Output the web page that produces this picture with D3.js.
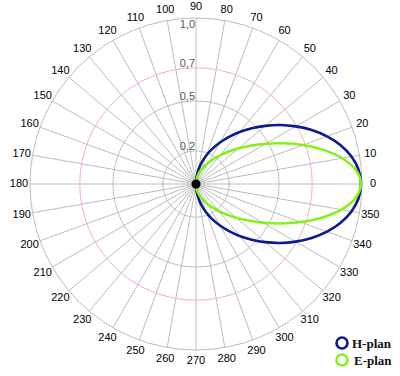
<!DOCTYPE html>
<html><head><meta charset="utf-8">
<script src="https://cdn.jsdelivr.net/npm/d3@7"></script>
<style>body{margin:0;background:#fff}svg{display:block}</style>
</head><body>
<svg id="c" width="400" height="376"></svg>
<script>
const angleTicks = [0,10,20,30,40,50,60,70,80,90,100,110,120,130,140,150,160,170,180,190,200,210,220,230,240,250,260,270,280,290,300,310,320,330,340,350];
const radialTicks = [0.2,0.5,0.7,1.0];
const radialLabels = ["0,2","0,5","0,7","1,0"];
const seriesNames = ["H-plan","E-plan"];
const seriesColors = ["#0b1a8c","#88f018"];
const angleDeg = [275,280,285,290,295,300,305,310,315,320,325,330,335,340,345,350,355,0,5,10,15,20,25,30,35,40,45,50,55,60,65,70,75,80,85,90];
const hplan = [0.044,0.089,0.136,0.184,0.235,0.289,0.347,0.409,0.475,0.545,0.619,0.694,0.769,0.840,0.902,0.951,0.983,0.994,0.983,0.951,0.902,0.840,0.769,0.694,0.619,0.545,0.475,0.409,0.347,0.289,0.235,0.184,0.136,0.089,0.044,0];
const eplan = [0.020,0.040,0.061,0.085,0.110,0.140,0.173,0.213,0.260,0.316,0.384,0.466,0.562,0.670,0.784,0.889,0.965,0.994,0.967,0.894,0.794,0.686,0.580,0.484,0.401,0.332,0.274,0.225,0.183,0.148,0.117,0.090,0.066,0.043,0.021,0];

const cx = 196, cy = 184, R = 166;
const svg = d3.select("#c");
const g = svg.append("g").attr("transform", `translate(${cx},${cy})`);
const r = d3.scaleLinear().domain([0,1]).range([0,R]);
const toRad = d => d * Math.PI / 180;

// spokes
g.selectAll("line.spoke").data(angleTicks).join("line")
  .attr("x1",0).attr("y1",0)
  .attr("x2",d=>r(1)*Math.cos(toRad(d)))
  .attr("y2",d=>-r(1)*Math.sin(toRad(d)))
  .attr("stroke","#bdbdbd").attr("stroke-width",1);

// circles
g.selectAll("circle.grid").data(radialTicks).join("circle")
  .attr("r",d=>r(d)).attr("fill","none")
  .attr("stroke",d=>d===0.7?"#f2b4b4":"#bdbdbd").attr("stroke-width",1);

// radial labels
g.selectAll("text.rl").data(radialTicks).join("text")
  .attr("x",-1)
  .attr("y",(d)=> d===1.0 ? -r(d)+10 : -r(d)-1)
  .attr("text-anchor","end")
  .attr("font-family","Liberation Sans, Arial, sans-serif")
  .attr("font-size",11).attr("fill","#4f5a55")
  .text((d,i)=>radialLabels[i]);

// angle labels
g.selectAll("text.al").data(angleTicks).join("text")
  .attr("x",d=>(r(1)+11)*Math.cos(toRad(d)))
  .attr("y",d=>-(r(1)+11)*Math.sin(toRad(d)))
  .attr("dy","0.3em")
  .attr("text-anchor","middle")
  .attr("font-family","Liberation Sans, Arial, sans-serif")
  .attr("font-size",11).attr("fill","#000")
  .text(d=>d);

// series
const line = d3.lineRadial()
  .angle(d=>Math.PI/2 - toRad(d[0]))
  .radius(d=>r(d[1]))
  .curve(d3.curveCatmullRomClosed.alpha(0.5));
const series = [hplan, eplan];
series.forEach((vals,i)=>{
  g.append("path")
    .attr("d", line(angleDeg.map((a,j)=>[a, vals[j]])))
    .attr("fill","none").attr("stroke",seriesColors[i]).attr("stroke-width",2.6);
});

g.append("circle").attr("r",4.5).attr("fill","#000");

// legend
const lg = svg.append("g");
seriesNames.forEach((n,i)=>{
  lg.append("circle").attr("cx",342).attr("cy",343+i*17).attr("r",5.5)
    .attr("fill","none").attr("stroke",seriesColors[i]).attr("stroke-width",2.6);
  lg.append("text").attr("x",352+(i?2:0)).attr("y",343+i*17).attr("dy","0.35em")
    .attr("font-family","Liberation Serif, Times New Roman, serif")
    .attr("font-weight","bold").attr("font-size",13).attr("fill","#111").text(n);
});
</script>
</body></html>
